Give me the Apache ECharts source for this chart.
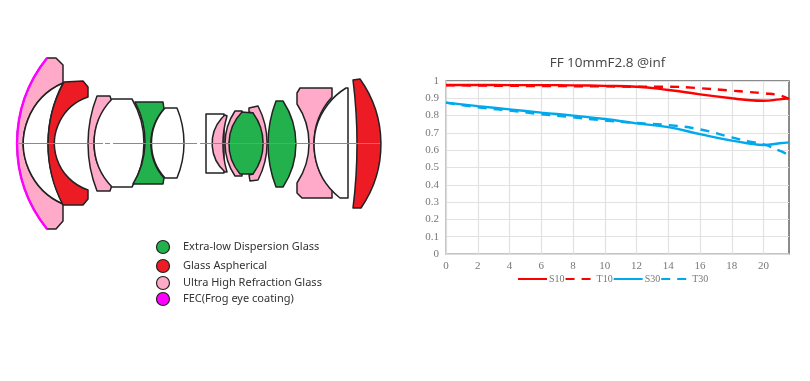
<!DOCTYPE html>
<html>
<head>
<meta charset="utf-8">
<title>FF 10mmF2.8 @inf</title>
<style>
  html, body { margin: 0; padding: 0; background: #fff; }
  #chart { width: 810px; height: 381px; }
</style>
<script src="https://cdn.jsdelivr.net/npm/echarts@6/dist/echarts.min.js"></script>
</head>
<body>
<div id="chart"></div>
<script>
// image height in mm, sampled where the curves bend
const fieldValues = [0, 2, 4, 6, 8, 10, 12, 14, 16, 18, 19, 20, 21, 21.6];
const s10 = [0.977, 0.977, 0.976, 0.976, 0.975, 0.972, 0.967, 0.948, 0.923, 0.900, 0.890, 0.886, 0.894, 0.900];
const t10 = [0.975, 0.974, 0.972, 0.971, 0.970, 0.969, 0.967, 0.967, 0.958, 0.944, 0.937, 0.929, 0.917, 0.894];
const s30 = [0.875, 0.855, 0.836, 0.817, 0.800, 0.780, 0.755, 0.733, 0.693, 0.655, 0.640, 0.630, 0.640, 0.645];
const t30 = [0.875, 0.848, 0.829, 0.808, 0.790, 0.772, 0.757, 0.745, 0.720, 0.674, 0.652, 0.634, 0.597, 0.572];

const glassLegend = ['Extra-low Dispersion Glass', 'Glass Aspherical', 'Ultra High Refraction Glass', 'FEC(Frog eye coating)'];

const PINK = '#ffaac9';
const RED = '#ed1c24';
const GREEN = '#22b14c';
const WHITE = '#ffffff';
const MAGENTA = '#ff00ff';
const glassColors = [GREEN, RED, PINK, MAGENTA];

// lens cross-section, back to front so later elements overlap earlier ones
const lensShapes = [
  [PINK, 'M47 58 L56 58 L63 65 L63 83 A66 66 0 0 0 63 204 L63 221 L56 229 L47 229 A137 137 0 0 1 47 58 Z'],
  [WHITE, 'M63 83 A66 66 0 0 0 63 204 A130 130 0 0 1 63 83 Z'],
  [RED, 'M64 82 L83 81 L88 87 L88 97 A49 49 0 0 0 88 190 L88 199 L83 205 L63 205 A130 130 0 0 1 64 82 Z'],
  [PINK, 'M97 96 L110 96 L112 102 A57 57 0 0 0 112 185 L110 191 L97 191 A130 130 0 0 1 97 96 Z'],
  [WHITE, 'M112 99 L132 99 A87 87 0 0 1 132 187 L112 187 A63 63 0 0 1 112 99 Z'],
  [GREEN, 'M135 102 L163 102 L164 109 A52 52 0 0 0 164 178 L163 184 L133 184 A82 82 0 0 0 135 102 Z'],
  [WHITE, 'M165 108 L177 108 A91 91 0 0 1 177 178 L165 178 A52 52 0 0 1 165 108 Z'],
  [WHITE, 'M206 114 L224 114 L224 173 L206 173 Z'],
  [PINK, 'M225 115 L227 116 A100 100 0 0 0 227 172 L225 172 A38 38 0 0 1 225 115 Z'],
  [PINK, 'M235 111 L242 111 L242 176 L235 176 A58 58 0 0 1 235 111 Z'],
  [PINK, 'M249 108 L258 106 A80 80 0 0 1 258 180 L250 181 L249 175 L253 174 L253 113 L249 112 Z'],
  [GREEN, 'M242 112 L253 113 A51 51 0 0 1 253 174 L240 174 A46 46 0 0 1 242 112 Z'],
  [GREEN, 'M276 101 L283 101 A78 78 0 0 1 283 187 L276 187 A120 120 0 0 1 276 101 Z'],
  [PINK, 'M300 88 L332 88 L332 97 A69 69 0 0 0 332 190 L332 198 L302 198 L297 193 L297 183 A71 71 0 0 0 297 104 L297 93 Z'],
  [WHITE, 'M346 88 L348 88 L348 198 L340 198 A67 67 0 0 1 346 88 Z'],
  [RED, 'M353 80 L360 79 A112 112 0 0 1 361 208 L353 208 A514 514 0 0 0 353 80 Z']
];
const frogEyePath = 'M47 58 A137 137 0 0 0 47 229';
const axisSegments = [[17, 103], [105, 110], [113, 197], [200, 380]];
const legendRows = [247, 266, 283, 299];

// the graphic component has no plain path type, so each outline becomes a named shape
const pathElement = (name, path, style, z) => {
  echarts.graphic.registerShape(name, echarts.graphic.extendPath(path, {}));
  return { type: name, style: style, z: z };
};

const graphic = [];
lensShapes.forEach(([fill, path], i) => {
  graphic.push(pathElement('lens' + i, path, { fill: fill, stroke: '#222', lineWidth: 1.5, lineJoin: 'round' }, 10));
});
graphic.push(pathElement('frogEye', frogEyePath, { fill: 'none', stroke: MAGENTA, lineWidth: 2.4 }, 11));
axisSegments.forEach(([x1, x2]) => {
  graphic.push({
    type: 'line',
    shape: { x1: x1, y1: 143.5, x2: x2, y2: 143.5 },
    style: { stroke: '#8a8a8a', lineWidth: 1 },
    z: 12
  });
});
glassLegend.forEach((label, i) => {
  graphic.push({
    type: 'circle',
    shape: { cx: 163, cy: legendRows[i], r: 6.5 },
    style: { fill: glassColors[i], stroke: '#222', lineWidth: 1.2 },
    z: 10
  });
  graphic.push({
    type: 'text',
    x: 183,
    y: legendRows[i],
    style: {
      text: label,
      fill: '#333',
      font: '11px "Noto Sans"',
      verticalAlign: 'middle'
    },
    z: 10
  });
});

const makeSeries = (name, values, color, dashed) => ({
  name: name,
  type: 'line',
  smooth: true,
  symbol: 'none',
  data: fieldValues.map((x, i) => [x, values[i]]),
  lineStyle: { color: color, width: 2.4, type: dashed ? [9, 7] : 'solid' },
  itemStyle: { color: color }
});

const tickFont = { color: '#777', fontFamily: '"Liberation Serif"', fontSize: 11 };

const option = {
  backgroundColor: '#fff',
  animation: false,
  title: {
    text: 'FF 10mmF2.8 @inf',
    left: 607.5,
    top: 56,
    padding: 0,
    textAlign: 'center',
    textStyle: { color: '#444', fontFamily: '"Open Sans"', fontSize: 13.5, fontWeight: 'normal' }
  },
  grid: { left: 446, right: 21, top: 81, bottom: 127, show: true, borderColor: '#666', borderWidth: 1.5 },
  legend: {
    left: 517,
    top: 274,
    padding: 0,
    itemWidth: 29,
    itemHeight: 10,
    itemGap: 0,
    // line series always add a marker to their legend key, only the line is wanted
    itemStyle: { opacity: 0 },
    textStyle: { color: '#777', fontFamily: '"Liberation Serif"', fontSize: 10, padding: [0, 0, 0, -3] },
    data: ['S10', 'T10', 'S30', 'T30']
  },
  xAxis: {
    type: 'value',
    min: 0,
    max: 21.6,
    interval: 2,
    axisLine: { show: true, lineStyle: { color: '#d9d9d9', width: 1.5 } },
    axisTick: { show: false },
    axisLabel: Object.assign({ showMaxLabel: false, margin: 7 }, tickFont),
    splitLine: { show: true, showMaxLine: false, lineStyle: { color: '#e2e2e2', width: 1.2 } }
  },
  yAxis: {
    type: 'value',
    min: 0,
    max: 1,
    interval: 0.1,
    axisLine: { show: true, lineStyle: { color: '#d9d9d9', width: 1.5 } },
    axisTick: { show: false },
    axisLabel: Object.assign({ margin: 7 }, tickFont),
    splitLine: { show: true, lineStyle: { color: '#e2e2e2', width: 1.2 } }
  },
  series: [
    makeSeries('S10', s10, '#ff0000', false),
    makeSeries('T10', t10, '#ff0000', true),
    makeSeries('S30', s30, '#00a8ec', false),
    makeSeries('T30', t30, '#00a8ec', true)
  ],
  graphic: graphic
};

const myChart = echarts.init(document.getElementById('chart'));
myChart.setOption(option);
</script>
</body>
</html>
